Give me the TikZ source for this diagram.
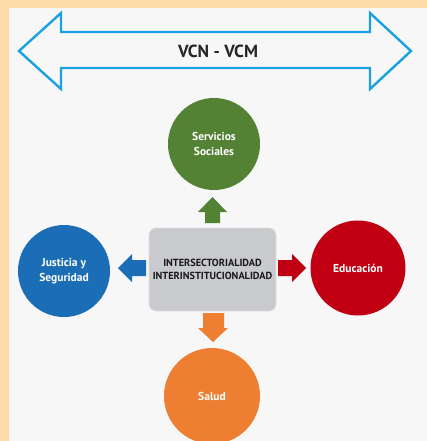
\documentclass[tikz,border=0pt]{standalone}
\usepackage{fontspec}
\setmainfont{PT Sans}
\definecolor{peach}{HTML}{FDDCAA}
\definecolor{panel}{HTML}{F7F7F7}
\definecolor{vblue}{HTML}{1BA1E2}
\definecolor{cgreen}{HTML}{548235}
\definecolor{cred}{HTML}{C00012}
\definecolor{cblue}{HTML}{1B6EB5}
\definecolor{corange}{HTML}{EE7E32}
\definecolor{boxgray}{HTML}{C9CACE}
\begin{document}
\begin{tikzpicture}[x=1pt,y=-1pt,
  circ/.style={circle,minimum size=#1,inner sep=0pt,text=white,font=\bfseries\fontsize{11.5}{14.5}\selectfont,align=center}]
\useasboundingbox (0,0) rectangle (427,441);
\fill[peach] (0,0) rectangle (427,441);
\fill[panel] (9,8) rectangle (427,441);
% double arrow
\draw[vblue,line width=2.4pt,line join=miter,fill=panel]
  (19,51) -- (61,13) -- (61,32) -- (370,32) -- (370,13) -- (411,51) -- (370,89) -- (370,68) -- (61,68) -- (61,89) -- cycle;
\node[font=\bfseries\fontsize{17.5}{20}\selectfont,text=black!85] (vcn) at (218,51) {VCN - VCM};
% center box
\node[draw=black!12,line width=0.8pt,fill=boxgray,rounded corners=7pt,minimum width=127pt,minimum height=83pt,
  font=\bfseries\fontsize{10.3}{12.5}\selectfont,align=center,text=black!90] (box) at (212.5,269.5)
  {INTERSECTORIALIDAD\\INTERINSTITUCIONALIDAD};
% circles
\node[circ=92pt,fill=cgreen] (ss) at (214,144) {Servicios\\Sociales};
\node[circ=95pt,fill=cred] (edu) at (358,268) {Educación};
\node[circ=92pt,fill=cblue] (js) at (64,271) {Justicia y\\Seguridad};
\node[circ=96pt,fill=corange] (sal) at (212,396) {Salud};
% block arrows
\fill[cgreen] (212.5,197) -- (227,212) -- (220,212) -- (220,223) -- (205,223) -- (205,212) -- (198,212) -- cycle;
\fill[cred] (306,268) -- (292,254) -- (292,260) -- (278,260) -- (278,276) -- (292,276) -- (292,282) -- cycle;
\fill[cblue] (118,268) -- (132,254) -- (132,260) -- (146,260) -- (146,276) -- (132,276) -- (132,282) -- cycle;
\fill[corange] (213,342) -- (228,328) -- (224,328) -- (224,313) -- (203,313) -- (203,328) -- (198,328) -- cycle;
\end{tikzpicture}
\end{document}
